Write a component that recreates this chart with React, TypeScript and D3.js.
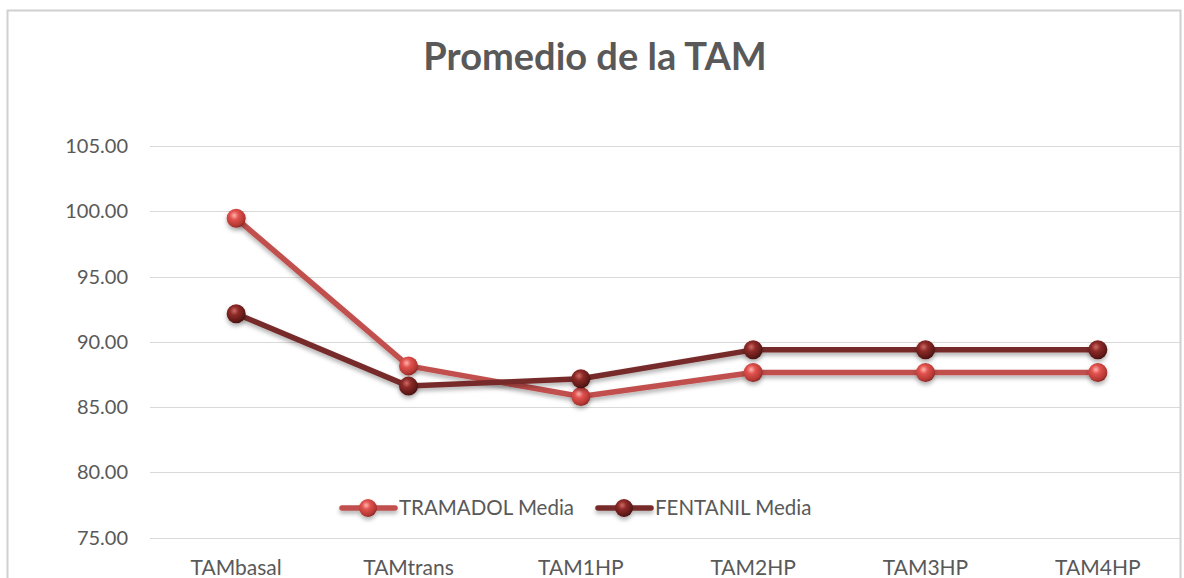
import React from "react";
import * as d3 from "d3";

const categories = ["TAMbasal", "TAMtrans", "TAM1HP", "TAM2HP", "TAM3HP", "TAM4HP"];
const tramadol = [99.46, 88.15, 85.8, 87.65, 87.65, 87.65];
const fentanil = [92.15, 86.6, 87.17, 89.38, 89.38, 89.38];
const yTicks = [75, 80, 85, 90, 95, 100, 105];
const seriesNames = ["TRAMADOL Media", "FENTANIL Media"];

const W = 1184;
const H = 578;
const FONT = "Lato, 'Open Sans', sans-serif";

export default function App() {
  const x = d3.scaleBand<string>().domain(categories).range([150, 1184]);
  const y = d3.scaleLinear().domain([75, 105]).range([537.5, 146]);
  const cx = (c: string) => (x(c) as number) + x.bandwidth() / 2;
  const line = d3
    .line<number>()
    .x((_, i) => cx(categories[i]))
    .y((d) => y(d));

  const series = [
    { name: seriesNames[0], data: tramadol, color: "#c0504d", grad: "gLight" },
    { name: seriesNames[1], data: fentanil, color: "#772c2a", grad: "gDark" },
  ];

  const legendX = [342, 598];
  const legendY = 508;

  return (
    <svg
      width={W}
      height={H}
      style={{ position: "absolute", left: 0, top: 0, background: "#fff" }}
    >
      <defs>
        <radialGradient id="gLight" cx="40%" cy="35%" r="65%">
          <stop offset="0%" stopColor="#ffb3b0" />
          <stop offset="35%" stopColor="#e2524e" />
          <stop offset="85%" stopColor="#b33733" />
          <stop offset="100%" stopColor="#8e2825" />
        </radialGradient>
        <radialGradient id="gDark" cx="40%" cy="35%" r="65%">
          <stop offset="0%" stopColor="#d06a66" />
          <stop offset="35%" stopColor="#8e2b28" />
          <stop offset="85%" stopColor="#5e1917" />
          <stop offset="100%" stopColor="#451110" />
        </radialGradient>
        <filter id="shadow" x="-20%" y="-20%" width="140%" height="160%">
          <feDropShadow dx="0" dy="3" stdDeviation="2" floodColor="#000" floodOpacity="0.3" />
        </filter>
      </defs>
      <rect x={7.5} y={10.5} width={1173} height={620} fill="#fff" stroke="#d0d0d0" strokeWidth={2} />
      <text
        x={595}
        y={70}
        textAnchor="middle"
        fontFamily={FONT}
        fontWeight="bold"
        fontSize={38}
        fill="#595959"
      >
        Promedio de la TAM
      </text>
      {yTicks.map((t) => (
        <g key={t}>
          <line x1={150} x2={1180} y1={Math.round(y(t)) + 0.5} y2={Math.round(y(t)) + 0.5} stroke="#d9d9d9" strokeWidth={1.2} />
          <text
            x={128}
            y={y(t)}
            dy="0.35em"
            textAnchor="end"
            fontFamily={FONT}
            fontSize={20}
            fill="#595959"
          >
            {d3.format(".2f")(t)}
          </text>
        </g>
      ))}
      {categories.map((c) => (
        <text
          key={c}
          x={cx(c)}
          y={575}
          textAnchor="middle"
          fontFamily={FONT}
          fontSize={21}
          fill="#595959"
        >
          {c}
        </text>
      ))}
      {series.map((s) => (
        <g key={s.name} filter="url(#shadow)">
          <path d={line(s.data) || ""} fill="none" stroke={s.color} strokeWidth={5.5} strokeLinejoin="round" />
        </g>
      ))}
      {series.map((s) => (
        <g key={s.name + "m"} filter="url(#shadow)">
          {s.data.map((v, i) => (
            <circle key={i} cx={cx(categories[i])} cy={y(v)} r={9.5} fill={`url(#${s.grad})`} />
          ))}
        </g>
      ))}
      {series.map((s, i) => (
        <g key={s.name + "l"}>
          <g filter="url(#shadow)">
            <line x1={legendX[i]} x2={legendX[i] + 53} y1={legendY} y2={legendY} stroke={s.color} strokeWidth={5.5} strokeLinecap="round" />
            <circle cx={legendX[i] + 26} cy={legendY} r={9} fill={`url(#${s.grad})`} />
          </g>
          <text
            x={legendX[i] + 57}
            y={legendY}
            dy="0.35em"
            fontFamily={FONT}
            fontSize={20.5}
            fill="#595959"
          >
            {s.name}
          </text>
        </g>
      ))}
    </svg>
  );
}
